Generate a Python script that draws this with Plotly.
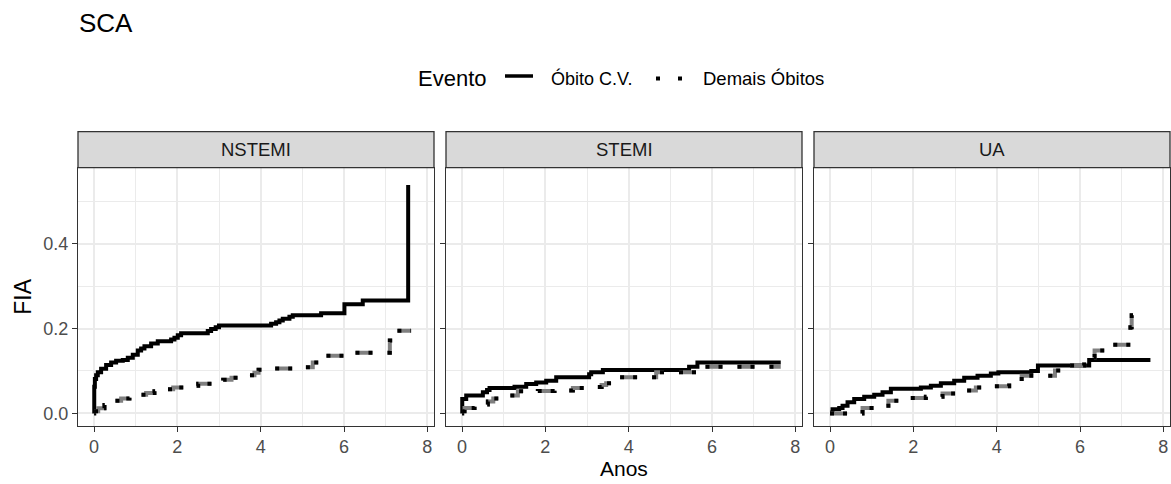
import plotly.graph_objects as go

# Cumulative incidence (FIA) step curves, by syndrome and event type
panels = ["NSTEMI", "STEMI", "UA"]

nstemi_cv_t = [0.0, 0.005, 0.02, 0.05, 0.09, 0.17, 0.29, 0.41, 0.53, 0.69, 0.81, 0.93, 1.05, 1.13, 1.21,
               1.37, 1.53, 1.85, 1.93, 2.01, 2.09, 2.73, 2.81, 2.92, 3.00, 4.25, 4.37, 4.45, 4.53, 4.69,
               4.77, 5.45, 6.01, 6.45, 7.54]
nstemi_cv_y = [0.000, 0.063, 0.081, 0.090, 0.097, 0.105, 0.114, 0.120, 0.124, 0.126, 0.131, 0.138, 0.148, 0.153, 0.158,
               0.165, 0.170, 0.174, 0.178, 0.184, 0.189, 0.194, 0.199, 0.203, 0.207, 0.211, 0.215, 0.219, 0.223, 0.228,
               0.231, 0.236, 0.257, 0.266, 0.538]

nstemi_out_t = [0.0, 0.10, 0.25, 0.50, 0.65, 0.85, 1.05, 1.25, 1.45, 1.70, 1.90, 2.20, 2.50, 2.90, 3.10,
                3.30, 3.70, 3.85, 3.95, 4.05, 4.90, 5.25, 5.40, 5.55, 6.00, 6.20, 7.10, 7.20, 7.61]
nstemi_out_y = [0.005, 0.012, 0.020, 0.030, 0.035, 0.040, 0.044, 0.048, 0.052, 0.057, 0.061, 0.065, 0.070, 0.074, 0.079,
                0.084, 0.090, 0.096, 0.103, 0.106, 0.109, 0.120, 0.128, 0.136, 0.140, 0.143, 0.172, 0.195, 0.195]

stemi_cv_t = [0.0, 0.005, 0.10, 0.50, 0.60, 0.66, 1.26, 1.54, 1.78, 2.02, 2.26, 3.05, 3.10, 3.38, 5.45, 5.65, 7.65]
stemi_cv_y = [0.000, 0.034, 0.042, 0.050, 0.055, 0.060, 0.063, 0.069, 0.073, 0.077, 0.085, 0.092, 0.097, 0.102,
              0.110, 0.120, 0.120]

stemi_out_t = [0.0, 0.06, 0.30, 0.62, 0.75, 1.02, 1.34, 1.82, 2.22, 2.66, 3.20, 3.35, 3.46, 3.65, 4.66, 5.70, 7.65]
stemi_out_y = [0.005, 0.013, 0.021, 0.028, 0.035, 0.042, 0.052, 0.053, 0.054, 0.060, 0.062, 0.067, 0.071, 0.085,
               0.097, 0.110, 0.110]

ua_cv_t = [0.0, 0.06, 0.22, 0.30, 0.42, 0.58, 0.82, 1.06, 1.26, 1.46, 2.18, 2.42, 2.66, 2.98, 3.22, 3.54, 3.86,
           4.04, 4.83, 4.99, 6.22, 7.69]
ua_cv_y = [0.002, 0.010, 0.013, 0.018, 0.026, 0.034, 0.039, 0.044, 0.050, 0.058, 0.061, 0.065, 0.071, 0.077, 0.084,
           0.089, 0.094, 0.097, 0.100, 0.113, 0.126, 0.126]

ua_out_t = [0.0, 0.78, 1.10, 1.40, 1.80, 2.30, 2.70, 3.05, 3.50, 3.90, 4.30, 4.60, 5.40, 5.65, 6.10, 6.35, 6.60,
            7.21, 7.24, 7.37]
ua_out_y = [0.000, 0.013, 0.018, 0.030, 0.036, 0.039, 0.047, 0.054, 0.061, 0.064, 0.073, 0.089, 0.101, 0.113,
            0.132, 0.148, 0.162, 0.203, 0.231, 0.231]

cv_series = [(nstemi_cv_t, nstemi_cv_y), (stemi_cv_t, stemi_cv_y), (ua_cv_t, ua_cv_y)]
out_series = [(nstemi_out_t, nstemi_out_y), (stemi_out_t, stemi_out_y), (ua_out_t, ua_out_y)]

x_ticks = [0, 2, 4, 6, 8]
y_ticks = [0.0, 0.2, 0.4]

W, H = 1171, 484
FONT = "Liberation Sans, Arial, sans-serif"
DARK = "#333333"

# panel geometry in pixels
panel_x = [(78, 434), (446, 802), (814, 1170)]
panel_top, panel_bottom = 167.7, 425.7
strip_top = 131.7


def px(xp):
    return xp / W


def py(yp):
    return 1 - yp / H


fig = go.Figure()

for i, name in enumerate(panels):
    suf = "" if i == 0 else str(i + 1)
    xa, ya = "x" + suf, "y" + suf
    t, y = cv_series[i]
    fig.add_trace(go.Scatter(x=t, y=y, mode="lines", line=dict(color="black", width=4, shape="hv"),
                             xaxis=xa, yaxis=ya, showlegend=False, hoverinfo="skip"))
    # "Demais Óbitos": grey dashes capped by black dots, two overlaid dash patterns on one path
    t, y = out_series[i]
    fig.add_trace(go.Scatter(x=t, y=y, mode="lines",
                             line=dict(color="#808080", width=4, shape="hv", dash="17px,15px"),
                             xaxis=xa, yaxis=ya, showlegend=False, hoverinfo="skip"))
    fig.add_trace(go.Scatter(x=t, y=y, mode="lines",
                             line=dict(color="black", width=4, shape="hv", dash="4px,9px,4px,15px"),
                             xaxis=xa, yaxis=ya, showlegend=False, hoverinfo="skip"))

layout = dict(
    width=W, height=H,
    margin=dict(l=0, r=0, t=0, b=0),
    paper_bgcolor="white", plot_bgcolor="white",
    font=dict(family=FONT, color="black"),
    showlegend=False,
)

common_grid = dict(showgrid=True, gridcolor="#EBEBEB", gridwidth=2, zeroline=False,
                   showline=True, mirror=True, linecolor=DARK, linewidth=1.3,
                   ticks="outside", ticklen=5, tickwidth=1.3, tickcolor=DARK,
                   tickfont=dict(family=FONT, size=18, color="#4D4D4D"))

for i in range(3):
    suf = "" if i == 0 else str(i + 1)
    x0, x1 = panel_x[i]
    layout["xaxis" + suf] = dict(
        domain=[px(x0), px(x1)], range=[-0.385, 8.16], anchor="y" + suf,
        tickvals=x_ticks, ticktext=[str(v) for v in x_ticks],
        minor=dict(tickvals=[1, 3, 5, 7], showgrid=True, gridcolor="#EBEBEB", gridwidth=1.2),
        **common_grid)
    layout["yaxis" + suf] = dict(
        domain=[py(panel_bottom), py(panel_top)], range=[-0.029, 0.579], anchor="x" + suf,
        tickvals=y_ticks, ticktext=[f"{v:.1f}" for v in y_ticks], showticklabels=(i == 0),
        minor=dict(tickvals=[0.1, 0.3, 0.5], showgrid=True, gridcolor="#EBEBEB", gridwidth=1.2),
        **common_grid)

fig.update_layout(**layout)

shapes = []
annotations = []

# facet strips
for i, name in enumerate(panels):
    x0, x1 = panel_x[i]
    shapes.append(dict(type="rect", xref="paper", yref="paper", x0=px(x0), x1=px(x1),
                       y0=py(panel_top), y1=py(strip_top), fillcolor="#D9D9D9",
                       line=dict(color=DARK, width=1.3), layer="above"))
    annotations.append(dict(text=name, xref="paper", yref="paper", x=px((x0 + x1) / 2),
                            y=py((strip_top + panel_top) / 2), xanchor="center", yanchor="middle",
                            showarrow=False, font=dict(family=FONT, size=18.5, color="#1A1A1A")))

# title and axis titles
annotations.append(dict(text="SCA", xref="paper", yref="paper", x=px(77), y=py(22.5),
                        xanchor="left", yanchor="middle", showarrow=False,
                        font=dict(family=FONT, size=26, color="black")))
annotations.append(dict(text="FIA", xref="paper", yref="paper", x=px(23), y=py((panel_top + panel_bottom) / 2),
                        xanchor="center", yanchor="middle", showarrow=False, textangle=-90,
                        font=dict(family=FONT, size=23, color="black")))
annotations.append(dict(text="Anos", xref="paper", yref="paper", x=px(624), y=py(468),
                        xanchor="center", yanchor="middle", showarrow=False,
                        font=dict(family=FONT, size=21, color="black")))

# legend
annotations.append(dict(text="Evento", xref="paper", yref="paper", x=px(416), y=py(78.5),
                        xanchor="left", yanchor="middle", showarrow=False,
                        font=dict(family=FONT, size=22, color="black")))
shapes.append(dict(type="line", xref="paper", yref="paper", x0=px(505), x1=px(533), y0=py(76), y1=py(76),
                   line=dict(color="black", width=3.5)))
annotations.append(dict(text="Óbito C.V.", xref="paper", yref="paper", x=px(549), y=py(78.5),
                        xanchor="left", yanchor="middle", showarrow=False,
                        font=dict(family=FONT, size=18, color="black")))
shapes.append(dict(type="line", xref="paper", yref="paper", x0=px(656), x1=px(682), y0=py(78.5), y1=py(78.5),
                   line=dict(color="black", width=4, dash="4px,18px")))
annotations.append(dict(text="Demais Óbitos", xref="paper", yref="paper", x=px(701), y=py(78.5),
                        xanchor="left", yanchor="middle", showarrow=False,
                        font=dict(family=FONT, size=18.5, color="black")))

fig.update_layout(shapes=shapes, annotations=annotations)

fig.write_html("out.html")
